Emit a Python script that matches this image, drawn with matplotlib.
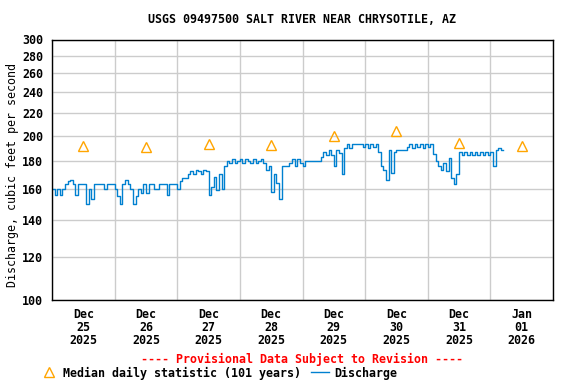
import numpy as np
import pandas as pd
import matplotlib
matplotlib.use('Agg')
import matplotlib.pyplot as plt
import matplotlib.dates as mdates
from matplotlib.lines import Line2D

plt.rcParams['font.family'] = ['DejaVu Sans Mono']
plt.rcParams['font.weight'] = 'bold'
plt.rcParams['font.size'] = 8.4

# hourly discharge, cfs, starting 2025-12-25 00:00
dec25 = [160, 156, 160, 156, 160, 163, 165, 166, 163, 156, 163, 163,
         163, 150, 160, 153, 163, 163, 163, 163, 160, 163, 163, 163]
dec26 = [160, 155, 150, 163, 166, 163, 160, 150, 155, 160, 157, 163,
         157, 163, 163, 160, 160, 163, 163, 163, 156, 163, 163, 163]
dec27 = [160, 165, 167, 167, 170, 172, 170, 173, 172, 170, 173, 172,
         156, 161, 168, 159, 170, 160, 176, 180, 178, 181, 178, 180]
dec28 = [181, 178, 181, 180, 178, 181, 178, 180, 181, 178, 173, 176,
         158, 170, 164, 153, 176, 176, 176, 178, 181, 176, 181, 178]
dec29 = [176, 180, 180, 180, 180, 180, 180, 183, 187, 184, 188, 184,
         176, 188, 186, 170, 190, 193, 190, 193, 193, 193, 193, 191]
dec30 = [193, 190, 193, 191, 193, 187, 176, 173, 166, 188, 171, 187,
         188, 188, 188, 188, 191, 193, 190, 193, 191, 193, 190, 193]
dec31 = [191, 193, 185, 180, 176, 173, 178, 172, 182, 167, 163, 170,
         187, 184, 187, 184, 187, 184, 187, 184, 187, 184, 187, 184]
jan01 = [187, 176, 188, 190, 188, 188]
discharge = dec25 + dec26 + dec27 + dec28 + dec29 + dec30 + dec31 + jan01
times = pd.date_range('2025-12-25 00:00', periods=len(discharge), freq='h')

# median daily statistic, plotted at noon
median_days = pd.date_range('2025-12-25 12:00', periods=8, freq='D')
median_vals = [191.7, 190.6, 193.3, 192.5, 199.4, 204.2, 194.1, 191.7]

yticks = [100, 120, 140, 160, 180, 200, 220, 240, 260, 280, 300]

fig = plt.figure(figsize=(5.76, 3.84), dpi=100)
ax = fig.add_axes([52/576, 84/384, 501/576, 260.5/384])

ax.plot(times, discharge, color='#0080d0', lw=1.0, drawstyle='steps-post')
ax.plot(median_days, median_vals, ls='none', marker='^', ms=7.5,
        mfc='none', mec='#ffa500', mew=1.0)

ax.set_yscale('log')
ax.set_ylim(100, 300)
ax.set_yticks(yticks)
ax.set_yticklabels([str(v) for v in yticks])
ax.yaxis.set_minor_locator(matplotlib.ticker.NullLocator())

ax.set_xlim(pd.Timestamp('2025-12-25'), pd.Timestamp('2026-01-02'))
ax.xaxis.set_major_locator(mdates.DayLocator())
ax.xaxis.set_major_formatter(matplotlib.ticker.NullFormatter())
ax.xaxis.set_minor_locator(mdates.HourLocator(byhour=[12]))
ax.xaxis.set_minor_formatter(mdates.DateFormatter('%b\n%d\n%Y'))

ax.grid(True, which='major', color='#cccccc', lw=1.0)
ax.set_axisbelow(True)
ax.tick_params(which='both', length=0)
ax.tick_params(axis='y', pad=6.5)
ax.tick_params(axis='x', which='minor', pad=6)
for lab in ax.get_xticklabels(minor=True):
    lab.set_linespacing(1.0)
for s in ax.spines.values():
    s.set_color('black')
    s.set_linewidth(1.0)

ax.set_title('USGS 09497500 SALT RIVER NEAR CHRYSOTILE, AZ', fontsize=8.4,
             fontweight='bold', pad=12)
ax.set_ylabel('Discharge, cubic feet per second')
ax.yaxis.set_label_coords(-0.066, 0.48)

fig.text(302/576, 1 - 359/384, '---- Provisional Data Subject to Revision ----',
         color='red', ha='center', va='center')

handles = [Line2D([], [], ls='none', marker='^', ms=7.5, mfc='none',
                  mec='#ffa500', mew=1.0),
           Line2D([], [], color='#0080d0', lw=1.0)]
fig.legend(handles, ['Median daily statistic (101 years)', 'Discharge'],
           loc='center left', bbox_to_anchor=(40/576, 1 - 373/384), ncol=2,
           frameon=False, handlelength=1.6, handletextpad=0.4,
           columnspacing=0.8, borderpad=0, borderaxespad=0)

fig.savefig('out.png', dpi=100)
